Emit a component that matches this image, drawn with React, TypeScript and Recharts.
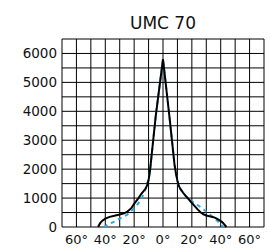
import { LineChart, Line, XAxis, YAxis, CartesianGrid } from 'recharts'

// main beam curve (black)
const beamAngles = [-45, -43.5, -42, -40, -37, -33, -30, -27, -25, -22, -20, -17, -15, -12, -11, -10, -9, -5, 0, 4.5, 8, 9, 10, 11, 12, 14, 16, 18, 20, 22, 24, 26, 28, 30, 33, 35, 37, 39, 41, 42.5, 44]
const beamValues = [0, 140, 220, 290, 350, 400, 430, 470, 520, 650, 800, 1000, 1150, 1330, 1450, 1620, 1950, 3850, 5800, 3800, 2150, 1850, 1600, 1420, 1320, 1180, 1060, 950, 830, 720, 610, 510, 440, 400, 360, 340, 300, 240, 170, 90, 0]

// second curve (blue dashed)
const altAngles = [-41, -38, -34, -30, -25, -21, -17, -14.5, -12.5, -11, -10, -9, -5, 0, 4.5, 8, 9, 10, 11, 12, 14, 16, 18, 24, 30, 34, 37, 40, 42]
const altValues = [0, 90, 180, 290, 420, 600, 820, 1020, 1280, 1500, 1620, 1950, 3850, 5800, 3800, 2150, 1850, 1600, 1420, 1320, 1180, 1060, 950, 760, 530, 370, 240, 100, 0]

const xTicks = [-70, -60, -50, -40, -30, -20, -10, 0, 10, 20, 30, 40, 50, 60, 70]
const xLabels = [-60, -40, -20, 0, 20, 40, 60]
const yTicks = [0, 500, 1000, 1500, 2000, 2500, 3000, 3500, 4000, 4500, 5000, 5500, 6000, 6500]
const yLabels = [0, 1000, 2000, 3000, 4000, 5000, 6000]

const title = 'UMC 70'

const beamData = beamAngles.map((angle, i) => ({ angle, value: beamValues[i] }))
const altData = altAngles.map((angle, i) => ({ angle, value: altValues[i] }))

const font = '"DejaVu Sans", sans-serif'

export default function App() {
  return (
    <div style={{ position: 'absolute', left: 0, top: 0, width: 270, height: 249, background: '#fff' }}>
      <div
        style={{
          position: 'absolute', left: 62, width: 202, top: 13, textAlign: 'center',
          fontFamily: font, fontSize: 17, lineHeight: '20px', color: '#111'
        }}
      >
        {title}
      </div>
      <LineChart width={270} height={249} margin={{ top: 39, right: 6, bottom: 0, left: 0 }}>
        <CartesianGrid stroke="#000" strokeWidth={1} />
        <XAxis
          dataKey="angle"
          type="number"
          domain={[-70, 70]}
          ticks={xTicks}
          interval={0}
          allowDataOverflow
          tickFormatter={(v) => (xLabels.includes(v) ? `${Math.abs(v)}°` : '')}
          tick={{ fontSize: 13, fill: '#111', fontFamily: font }}
          axisLine={false}
          tickLine={false}
          tickSize={0}
          tickMargin={8}
          height={22}
        />
        <YAxis
          type="number"
          domain={[0, 6500]}
          ticks={yTicks}
          interval={0}
          tickFormatter={(v) => (yLabels.includes(v) ? String(v) : '')}
          tick={{ fontSize: 13.5, fill: '#111', fontFamily: font }}
          axisLine={false}
          tickLine={false}
          tickSize={0}
          tickMargin={5}
          width={62}
        />
        <Line
          data={altData}
          dataKey="value"
          type="linear"
          stroke="#2aa7e0"
          strokeWidth={2}
          strokeDasharray="4 4"
          dot={false}
          activeDot={false}
          isAnimationActive={false}
        />
        <Line
          data={beamData}
          dataKey="value"
          type="linear"
          stroke="#000"
          strokeWidth={2}
          dot={false}
          activeDot={false}
          isAnimationActive={false}
        />
      </LineChart>
    </div>
  )
}
